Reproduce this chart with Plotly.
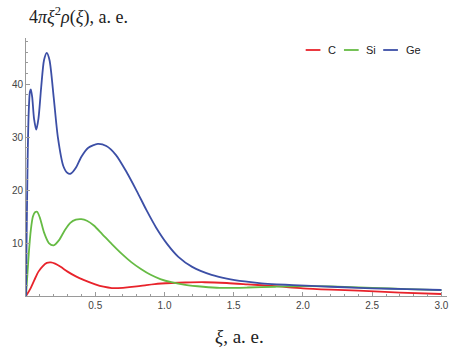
import plotly.graph_objects as go

# ---- data ----
ge_x = [0, 0.005, 0.012, 0.02, 0.028, 0.035, 0.045, 0.058, 0.074, 0.09, 0.11, 0.13, 0.15, 0.17, 0.2, 0.23,
        0.27, 0.3, 0.323, 0.36, 0.4, 0.45, 0.518, 0.58, 0.65, 0.726, 0.8, 0.87, 0.94, 1.02, 1.1, 1.2, 1.34,
        1.45, 1.58, 1.7, 1.81, 1.93, 2.1, 2.3, 2.5, 2.75, 3.0]
ge_y = [0, 12, 26, 35, 38.5, 39.0, 37.5, 33.5, 31.4, 33.5, 39.5, 44.5, 45.9, 44.5, 37.5, 30,
        24.5, 23.2, 23.1, 24.2, 26.3, 28.0, 28.7, 28.3, 26.6, 23.4, 19.8, 16.2, 12.9, 9.8, 7.4, 5.5, 4.0,
        3.3, 2.75, 2.4, 2.2, 2.05, 1.85, 1.65, 1.45, 1.3, 1.13]

si_x = [0, 0.01, 0.02, 0.035, 0.05, 0.065, 0.08, 0.1, 0.13, 0.165, 0.2, 0.24, 0.28, 0.32, 0.36, 0.4,
        0.44, 0.49, 0.55, 0.62, 0.69, 0.76, 0.83, 0.9, 0.97, 1.05, 1.15, 1.28, 1.4, 1.6, 1.8, 2.0, 2.2,
        2.5, 2.75, 3.0]
si_y = [0, 4, 8, 12.5, 15, 15.8, 15.9, 14.8, 12, 10, 9.57, 10.6, 12.4, 13.8, 14.4, 14.5,
        14.2, 13.3, 11.7, 9.8, 8.0, 6.4, 5.1, 4.0, 3.2, 2.6, 2.1, 1.75, 1.55, 1.6, 1.75, 1.85, 1.8,
        1.55, 1.3, 1.1]

c_x = [0, 0.03, 0.06, 0.09, 0.12, 0.15, 0.18, 0.21, 0.25, 0.3, 0.36, 0.42, 0.5, 0.56, 0.62, 0.7, 0.8,
       0.87, 0.93, 1.05, 1.15, 1.29, 1.45, 1.6, 1.8, 2.0, 2.2, 2.4, 2.7, 3.0]
c_y = [0, 1.3, 3.0, 4.6, 5.6, 6.25, 6.35, 6.1, 5.5, 4.6, 3.7, 3.0, 2.2, 1.75, 1.5, 1.55, 1.8,
       2.07, 2.26, 2.45, 2.55, 2.6, 2.45, 2.2, 1.85, 1.45, 1.2, 1.0, 0.65, 0.38]

series_names = ["C", "Si", "Ge"]
series_colors = ["#e8232b", "#66bb44", "#3c4fa6"]

x_tickvals = [0.5, 1.0, 1.5, 2.0, 2.5, 3.0]
x_ticktext = ["0.5", "1.0", "1.5", "2.0", "2.5", "3.0"]
y_tickvals = [10, 20, 30, 40]
y_ticktext = ["10", "20", "30", "40"]

W, H = 461, 348
L, R, T, B = 18, 14, 38, 52

fig = go.Figure()
for xs, ys, name, col in [(c_x, c_y, "C", series_colors[0]),
                          (si_x, si_y, "Si", series_colors[1]),
                          (ge_x, ge_y, "Ge", series_colors[2])]:
    fig.add_trace(go.Scatter(x=xs, y=ys, mode="lines", name=name,
                             line=dict(color=col, width=1.8, shape="spline", smoothing=0.7),
                             showlegend=False))

axis_common = dict(showgrid=False, zeroline=False, showline=True, linecolor="#9a9a9a", linewidth=1,
                   ticks="inside", tickcolor="#9a9a9a", ticklen=4,
                   tickfont=dict(family="Liberation Sans, Arial", size=10, color="#444"))

fig.update_xaxes(range=[0, 3.04], tickvals=x_tickvals, ticktext=x_ticktext,
                 minor=dict(ticks="inside", dtick=0.1, ticklen=2, tickcolor="#9a9a9a"),
                 **axis_common)
fig.update_yaxes(range=[0, 48.7], tickvals=y_tickvals, ticktext=y_ticktext,
                 minor=dict(ticks="inside", dtick=2, ticklen=2, tickcolor="#9a9a9a"),
                 **axis_common)

pw, ph = W - L - R, H - T - B
def px(x):
    return (x - L) / pw
def py(y):
    return (H - B - y) / ph

annotations = [
    dict(x=px(19), y=py(16), xref="paper", yref="paper", xanchor="left", yanchor="middle",
         text="4<i>π</i><i>ξ</i><sup>2</sup><i>ρ</i>(<i>ξ</i>), a. e.", showarrow=False,
         font=dict(family="Liberation Serif, Times New Roman", size=18, color="#222")),
    dict(x=px(236), y=py(336), xref="paper", yref="paper", xanchor="center", yanchor="middle",
         text="<i>ξ</i>, a. e.", showarrow=False,
         font=dict(family="Liberation Serif, Times New Roman", size=19, color="#222")),
]
shapes = []
leg = [(303, 318, 324, "C"), (342, 357, 362, "Si"), (382, 397, 403, "Ge")]
for (x0, x1, tx, name), col in zip(leg, series_colors):
    shapes.append(dict(type="line", xref="paper", yref="paper", x0=px(x0), x1=px(x1),
                       y0=py(50), y1=py(50), line=dict(color=col, width=1.8)))
    annotations.append(dict(x=px(tx), y=py(50), xref="paper", yref="paper", xanchor="left",
                            yanchor="middle", text=name, showarrow=False,
                            font=dict(family="Liberation Sans, Arial", size=11, color="#222")))

fig.update_layout(width=W, height=H, margin=dict(l=L, r=R, t=T, b=B),
                  plot_bgcolor="white", paper_bgcolor="white",
                  annotations=annotations, shapes=shapes)

fig.write_html("out.html")
